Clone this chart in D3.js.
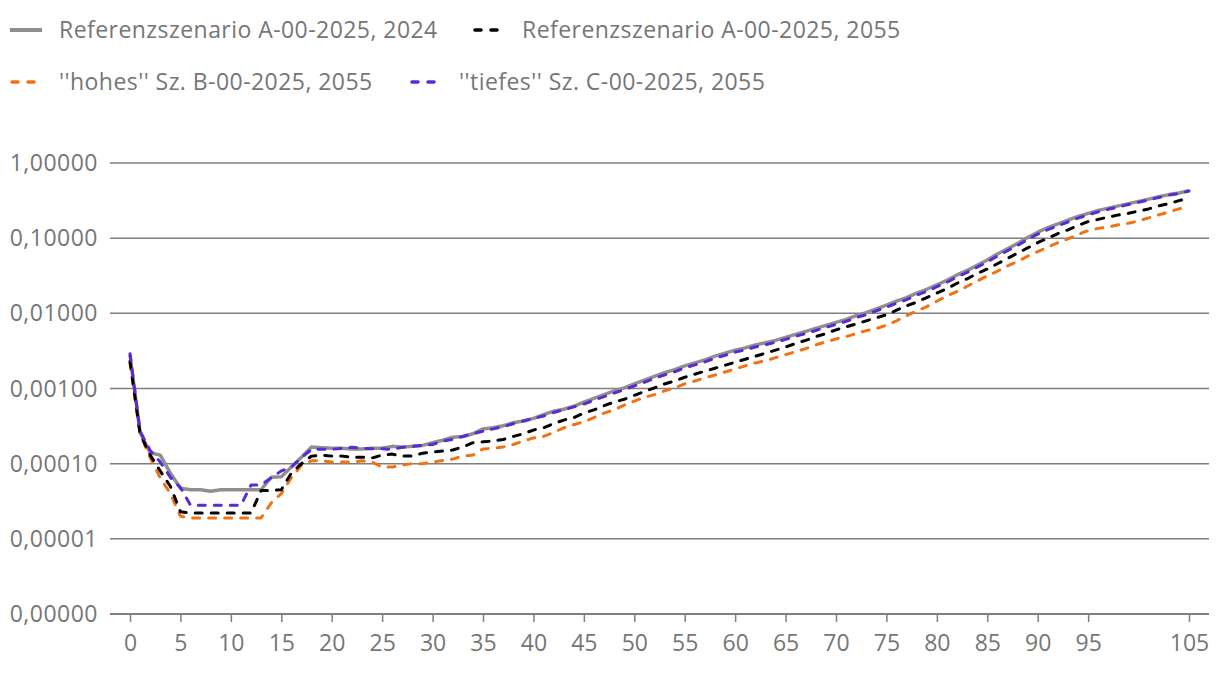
<!DOCTYPE html>
<html>
<head>
<meta charset="utf-8">
<script src="https://cdn.jsdelivr.net/npm/d3@7"></script>
<style>
  body { margin: 0; background: #fff; }
  svg text { font-family: "Open Sans", "Noto Sans", sans-serif; fill: #767676; }
</style>
</head>
<body>
<div class="chart"></div>
<script>
// ages 0..105
const ages = d3.range(0, 106)

// Referenzszenario A-00-2025, 2024
const ref2024 = [
  0.0028, 0.00026, 0.00014, 0.00013, 0.000075, 0.000047, 0.000045, 0.000045, 0.000043, 0.000045,
  0.000045, 0.000045, 0.000045, 0.000045, 0.000066, 0.000067, 0.00009, 0.000122, 0.000167, 0.000163,
  0.00016, 0.00016, 0.000157, 0.000157, 0.00016, 0.00016, 0.00017, 0.000165, 0.00017, 0.000175,
  0.00019, 0.000205, 0.000225, 0.00023, 0.00025, 0.00029, 0.0003, 0.00032, 0.00035, 0.00037,
  0.0004, 0.00045, 0.0005, 0.00053, 0.00058, 0.00066, 0.00074, 0.00083, 0.00093, 0.00102,
  0.00115, 0.00129, 0.00145, 0.00162, 0.00178, 0.0020, 0.00219, 0.0024, 0.00269, 0.00295,
  0.00324, 0.00347, 0.0038, 0.00407, 0.00437, 0.00479, 0.00525, 0.00575, 0.0063, 0.00692,
  0.00759, 0.00832, 0.00933, 0.0102, 0.0115, 0.0129, 0.0145, 0.0162, 0.0186, 0.0209,
  0.024, 0.0275, 0.0324, 0.0372, 0.0437, 0.0513, 0.0617, 0.0724, 0.0851, 0.102,
  0.120, 0.138, 0.155, 0.174, 0.195, 0.214, 0.234, 0.251, 0.269, 0.288,
  0.309, 0.331, 0.355, 0.380, 0.398, 0.427
]

// Referenzszenario A-00-2025, 2055
const ref2055 = [
  0.0023, 0.00025, 0.00013, 0.00008, 0.00005, 0.000023, 0.000022, 0.000022, 0.000022, 0.000022,
  0.000022, 0.000022, 0.000022, 0.000044, 0.000044, 0.000045, 0.000075, 0.0001, 0.000126, 0.00013,
  0.000126, 0.000126, 0.000122, 0.000122, 0.000119, 0.00013, 0.000134, 0.000126, 0.000126, 0.000138,
  0.000143, 0.000147, 0.000152, 0.000167, 0.00019, 0.000195, 0.0002, 0.00021, 0.00023, 0.00025,
  0.00028, 0.0003, 0.00034, 0.00038, 0.00041, 0.00047, 0.00052, 0.00059, 0.00066, 0.00072,
  0.00081, 0.00091, 0.00102, 0.00115, 0.00126, 0.00141, 0.00155, 0.0017, 0.00186, 0.00204,
  0.00224, 0.00245, 0.00269, 0.00295, 0.00324, 0.00355, 0.00398, 0.00437, 0.0049, 0.00537,
  0.00603, 0.00661, 0.00724, 0.00794, 0.00871, 0.00955, 0.011, 0.0126, 0.0141, 0.0162,
  0.0186, 0.0214, 0.0251, 0.0288, 0.0339, 0.0389, 0.0457, 0.0537, 0.0631, 0.0741,
  0.0871, 0.100, 0.115, 0.129, 0.148, 0.166, 0.178, 0.191, 0.204, 0.214,
  0.229, 0.245, 0.269, 0.288, 0.316, 0.339
]

// "hohes" Sz. B-00-2025, 2055
const hoch2055 = [
  0.0022, 0.00025, 0.00012, 0.000065, 0.00004, 0.00002, 0.000019, 0.000019, 0.000019, 0.000019,
  0.000019, 0.000019, 0.000019, 0.000019, 0.00003, 0.00004, 0.000065, 0.000095, 0.000109, 0.000109,
  0.000105, 0.000105, 0.000105, 0.000109, 0.000105, 0.00009, 0.00009, 0.000096, 0.0001, 0.0001,
  0.000105, 0.00011, 0.000115, 0.000126, 0.00013, 0.000157, 0.00016, 0.000167, 0.00018, 0.0002,
  0.00022, 0.00023, 0.00026, 0.0003, 0.00033, 0.00036, 0.00041, 0.00047, 0.00052, 0.0006,
  0.00068, 0.00076, 0.00083, 0.00093, 0.00102, 0.00115, 0.00126, 0.00138, 0.00151, 0.00166,
  0.00182, 0.002, 0.00219, 0.00234, 0.00257, 0.00282, 0.00309, 0.00339, 0.0038, 0.00417,
  0.00457, 0.0049, 0.00537, 0.00589, 0.0063, 0.00692, 0.00794, 0.00933, 0.0107, 0.0123,
  0.0145, 0.017, 0.0195, 0.0229, 0.0269, 0.0316, 0.0363, 0.0427, 0.049, 0.0575,
  0.0661, 0.0759, 0.0871, 0.0977, 0.112, 0.126, 0.135, 0.141, 0.151, 0.158,
  0.17, 0.186, 0.204, 0.224, 0.245, 0.269
]

// "tiefes" Sz. C-00-2025, 2055
const tief2055 = [
  0.0029, 0.00027, 0.00015, 0.000105, 0.000066, 0.000048, 0.000028, 0.000028, 0.000028, 0.000028,
  0.000028, 0.000028, 0.000052, 0.000052, 0.000065, 0.00008, 0.00009, 0.00012, 0.000155, 0.000155,
  0.000155, 0.00016, 0.000165, 0.00016, 0.000158, 0.000158, 0.000155, 0.000165, 0.00017, 0.000175,
  0.00018, 0.0002, 0.00021, 0.00023, 0.00025, 0.00027, 0.00029, 0.00031, 0.00034, 0.00037,
  0.0004, 0.00043, 0.00048, 0.00052, 0.00057, 0.00062, 0.0007, 0.00078, 0.00087, 0.00096,
  0.00108, 0.00121, 0.00136, 0.00152, 0.00167, 0.00188, 0.00206, 0.00226, 0.00253, 0.00277,
  0.00305, 0.00326, 0.00357, 0.00383, 0.00411, 0.0045, 0.00494, 0.0054, 0.00592, 0.0065,
  0.00713, 0.00782, 0.00877, 0.0096, 0.0108, 0.0121, 0.0136, 0.0152, 0.0175, 0.0196,
  0.0226, 0.0259, 0.0305, 0.035, 0.0411, 0.0482, 0.058, 0.068, 0.08, 0.096,
  0.113, 0.13, 0.146, 0.164, 0.185, 0.204, 0.224, 0.242, 0.26, 0.28,
  0.3, 0.323, 0.347, 0.373, 0.393, 0.425
]

const xTicks = [0, 5, 10, 15, 20, 25, 30, 35, 40, 45, 50, 55, 60, 65, 70, 75, 80, 85, 90, 95, 105]
const yTicks = [1, 0.1, 0.01, 0.001, 0.0001, 0.00001, 0.000001]

const seriesNames = [
  'Referenzszenario A-00-2025, 2024',
  'Referenzszenario A-00-2025, 2055',
  '\'\'hohes\'\' Sz. B-00-2025, 2055',
  '\'\'tiefes\'\' Sz. C-00-2025, 2055'
]

const series = [
  { name: seriesNames[0], values: ref2024, color: '#8f8f8f', width: 3.5, dash: null },
  { name: seriesNames[2], values: hoch2055, color: '#f07212', width: 3, dash: '7,9' },
  { name: seriesNames[1], values: ref2055, color: '#000000', width: 3, dash: '7,9' },
  { name: seriesNames[3], values: tief2055, color: '#5a2ad6', width: 3, dash: '7,9' }
]

const W = 1220, H = 682

const svg = d3.select('.chart').append('svg')
  .attr('width', W)
  .attr('height', H)

const x = d3.scaleLinear().domain([0, 105]).range([130, 1189])
const y = d3.scaleLog().domain([0.000001, 1]).range([614, 163])

const fmt = d => d3.format('.5f')(d).replace('.', ',')

// gridlines
svg.append('g')
  .selectAll('line')
  .data(yTicks)
  .enter()
  .append('line')
  .attr('x1', 110)
  .attr('x2', 1209)
  .attr('y1', d => y(d))
  .attr('y2', d => y(d))
  .attr('stroke', '#7f7f7f')
  .attr('stroke-width', d => d === 0.000001 ? 2 : 1.5)

// y labels
svg.append('g')
  .selectAll('text')
  .data(yTicks)
  .enter()
  .append('text')
  .attr('x', 98)
  .attr('y', d => y(d))
  .attr('dy', '0.35em')
  .attr('text-anchor', 'end')
  .attr('font-size', '23px')
  .attr('letter-spacing', '0.5px')
  .text(fmt)

// x axis
const xAxis = d3.axisBottom(x)
  .tickValues(xTicks)
  .tickSizeInner(8)
  .tickSizeOuter(0)
  .tickPadding(13)
  .tickFormat(d => d)

const gx = svg.append('g')
  .attr('transform', `translate(0,${ y(0.000001) })`)
  .call(xAxis)
gx.select('.domain').remove()
gx.selectAll('.tick line').attr('stroke', '#7f7f7f').attr('stroke-width', 1.5)
gx.selectAll('.tick text')
  .attr('font-size', '23px')
  .attr('font-family', '"Open Sans", "Noto Sans", sans-serif')
  .attr('fill', '#767676')

// lines
const line = d3.line()
  .x((d, i) => x(ages[i]))
  .y(d => y(d))

svg.append('g')
  .selectAll('path')
  .data(series)
  .enter()
  .append('path')
  .attr('d', d => line(d.values))
  .attr('fill', 'none')
  .attr('stroke', d => d.color)
  .attr('stroke-width', d => d.width)
  .attr('stroke-dasharray', d => d.dash)
  .attr('stroke-linecap', d => d.dash ? 'round' : 'butt')
  .attr('stroke-linejoin', 'round')

// legend
const legendItems = [
  { s: series[0], x: 10, y: 30 },
  { s: series[2], x: 473, y: 30 },
  { s: series[1], x: 10, y: 82 },
  { s: series[3], x: 410, y: 82 }
]

const lg = svg.append('g')
  .selectAll('g')
  .data(legendItems)
  .enter()
  .append('g')
  .attr('transform', d => `translate(${ d.x },${ d.y })`)

lg.append('line')
  .attr('x1', d => d.s.dash ? 2 : 0)
  .attr('x2', 32)
  .attr('stroke', d => d.s.color)
  .attr('stroke-width', d => d.s.dash ? 3.5 : 4)
  .attr('stroke-dasharray', d => d.s.dash ? '6,10' : null)
  .attr('stroke-linecap', d => d.s.dash ? 'round' : 'butt')

lg.append('text')
  .attr('x', 49)
  .attr('dy', '0.35em')
  .attr('font-size', '23px')
  .attr('letter-spacing', '0.45px')
  .text(d => d.s.name)
</script>
</body>
</html>
